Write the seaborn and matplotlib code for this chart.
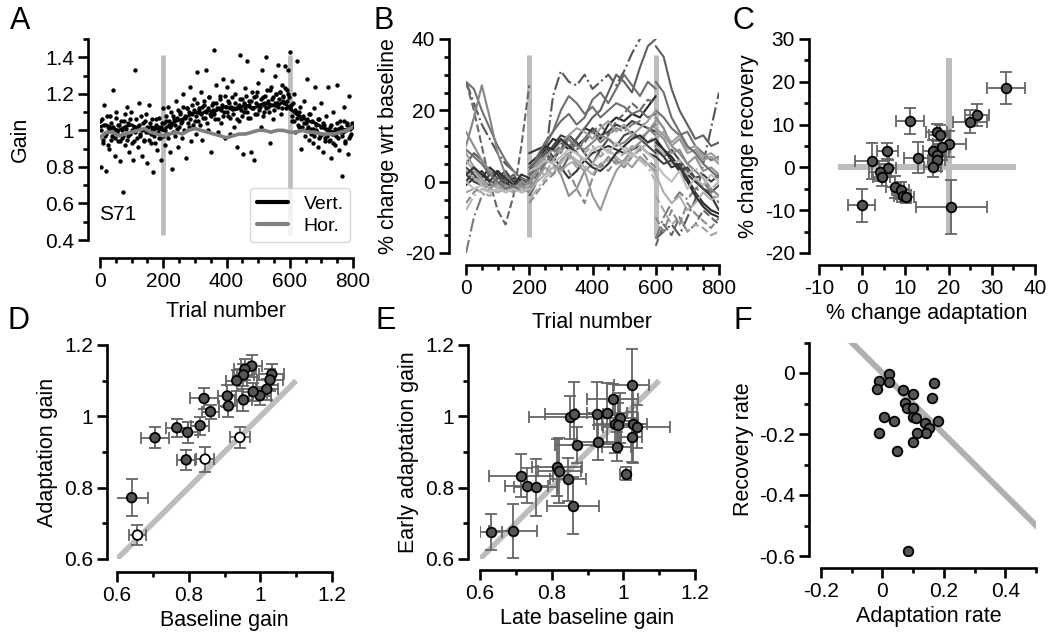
import numpy as np
import pandas as pd
import seaborn as sns
import matplotlib
matplotlib.use("Agg")
from matplotlib import pyplot as plt
from matplotlib.ticker import MultipleLocator, FormatStrFormatter

sns.set_theme(style="ticks")
plt.rcParams['font.family'] = ['Liberation Sans', 'DejaVu Sans']
plt.rcParams['axes.unicode_minus'] = False
for k in ('text.color', 'axes.labelcolor', 'xtick.color', 'ytick.color', 'axes.edgecolor'):
    plt.rcParams[k] = 'black'

# ---------------- data ----------------
# A: single subject (S71) vertical gain, dots at trials 0,4,8,... and 2,6,10,...
a_gain = [
    1.05, 0.80, 0.93, 1.14, 0.97, 0.78, 1.02, 0.90, 1.08, 0.95,
    1.22, 0.99, 0.86, 1.10, 0.94, 1.03, 0.83, 0.96, 0.66, 1.05,
    0.92, 1.13, 0.97, 0.88, 1.06, 1.00, 0.84, 0.94, 1.33, 1.02,
    0.91, 1.15, 0.98, 0.86, 1.04, 0.95, 1.09, 0.82, 0.99, 1.14,
    0.93, 1.01, 0.77, 0.97, 1.06, 0.89, 1.02, 0.96, 0.84, 1.04,
    1.12, 0.92, 1.05, 0.98, 1.13, 0.88, 1.03, 0.79, 1.08, 0.97,
    1.16, 1.01, 0.91, 1.10, 1.04, 0.96, 1.20, 1.07, 0.85, 1.12,
    1.02, 1.24, 0.94, 1.09, 1.17, 1.05, 0.98, 1.32, 1.11, 1.03,
    1.21, 0.95, 1.14, 1.07, 1.33, 1.00, 1.18, 1.09, 0.88, 1.15,
    1.44, 1.06, 1.25, 0.99, 1.12, 1.19, 1.04, 1.28, 1.10, 0.96,
    1.24, 1.08, 1.15, 0.98, 1.27, 1.12, 1.02, 1.20, 0.91, 1.13,
    1.05, 1.41, 1.17, 0.87, 1.10, 1.23, 1.38, 1.07, 1.16, 0.88,
    1.21, 1.12, 0.84, 1.19, 1.09, 1.26, 1.14, 1.02, 1.33, 1.18,
    1.10, 1.40, 1.22, 1.13, 0.93, 1.24, 1.17, 1.06, 1.30, 1.20,
    1.15, 1.36, 1.21, 1.09, 1.25, 1.18, 1.35, 1.12, 1.22, 1.33,
    1.43, 1.14, 1.05, 1.20, 0.99, 1.10, 1.38, 1.02, 1.13, 0.90,
    1.07, 1.16, 0.97, 1.04, 1.28, 0.95, 1.09, 1.01, 0.93, 1.12,
    1.24, 1.00, 0.91, 1.06, 0.97, 1.15, 0.88, 1.03, 0.96, 1.08,
    1.24, 0.94, 1.02, 0.85, 1.10, 0.98, 0.92, 1.25, 1.01, 0.89,
    1.05, 0.75, 0.99, 1.13, 0.93, 1.04, 0.87, 1.19, 0.97, 1.02,
]
a_gain_b = [
    1.00, 1.06, 0.95, 1.03, 0.98, 1.08, 0.92, 1.01, 1.04, 0.97,
    1.02, 0.96, 1.07, 0.99, 1.03, 0.94, 1.05, 1.00, 0.97, 1.09,
    1.01, 0.95, 1.04, 0.98, 1.10, 0.93, 1.02, 0.99, 1.06, 0.96,
    1.03, 0.97, 1.08, 1.00, 0.94, 1.05, 0.99, 1.02, 0.95, 1.04,
    0.98, 1.06, 1.01, 0.93, 1.03, 0.99, 1.07, 0.96, 1.02, 0.97,
    1.04, 1.00, 1.08, 0.96, 1.05, 1.02, 1.10, 0.99, 1.06, 1.03,
    1.07, 1.11, 1.02, 1.09, 1.05, 1.13, 1.00, 1.08, 1.12, 1.04,
    1.10, 1.06, 1.14, 1.03, 1.11, 1.08, 1.15, 1.05, 1.12, 1.09,
    1.13, 1.07, 1.16, 1.10, 1.04, 1.12, 1.18, 1.08, 1.14, 1.11,
    1.09, 1.15, 1.12, 1.06, 1.17, 1.11, 1.14, 1.08, 1.19, 1.13,
    1.10, 1.16, 1.07, 1.13, 1.18, 1.09, 1.15, 1.12, 1.06, 1.14,
    1.17, 1.11, 1.08, 1.15, 1.12, 1.19, 1.10, 1.14, 1.07, 1.16,
    1.12, 1.18, 1.09, 1.15, 1.21, 1.11, 1.13, 1.17, 1.08, 1.14,
    1.19, 1.12, 1.16, 1.10, 1.22, 1.14, 1.18, 1.11, 1.15, 1.20,
    1.13, 1.17, 1.21, 1.12, 1.19, 1.15, 1.23, 1.16, 1.20, 1.18,
    1.12, 1.08, 1.15, 1.05, 1.11, 1.07, 1.03, 1.10, 1.06, 1.02,
    1.08, 1.04, 1.00, 1.06, 1.02, 1.09, 0.98, 1.05, 1.01, 0.97,
    1.03, 0.99, 1.06, 0.96, 1.02, 0.98, 1.04, 0.94, 1.01, 0.97,
    1.00, 0.95, 1.03, 0.98, 0.93, 1.01, 0.97, 1.04, 0.96, 0.99,
    1.02, 0.97, 1.05, 0.94, 1.00, 1.03, 0.96, 1.01, 0.98, 1.04,
]
a_trials = np.arange(0, 800, 4)
a_trials_b = np.arange(2, 800, 4)
# smoothed gains, every 20 trials
a_vert = [1.02, 1.03, 1.01, 1.00, 1.02, 1.03, 1.01, 1.00, 1.02, 1.01,
          1.00, 1.03, 1.05, 1.06, 1.08, 1.10, 1.09, 1.11, 1.10, 1.12,
          1.13, 1.11, 1.12, 1.14, 1.12, 1.13, 1.15, 1.14, 1.13, 1.16,
          1.12, 1.09, 1.07, 1.05, 1.04, 1.02, 1.00, 0.99, 1.01, 1.00, 1.03]
a_hor = [0.96, 0.99, 0.99, 0.97, 0.98, 0.99, 1.00, 1.01, 0.99, 0.98,
         0.97, 0.98, 0.99, 0.98, 1.00, 1.01, 1.00, 0.99, 0.98, 0.97,
         0.96, 0.97, 0.98, 0.98, 0.99, 1.00, 1.00, 0.99, 1.00, 1.00,
         0.99, 0.99, 1.00, 0.99, 0.99, 0.98, 0.98, 0.98, 0.99, 1.00, 1.02]
a_smooth_trials = np.arange(0, 801, 20)
phase_edges = [200, 600]

# B: % change wrt baseline per subject (pre 0-200, adapt 200-600, post 600-800; every 25 trials)
b_pre = [
    [0, 3, 1, 4, 2, -1, 1, 0, -2],
    [-1, 1, 3, 0, -1, 2, 0, 1, -1],
    [2, 0, -1, 2, 3, 0, -2, 1, 0],
    [4, 2, 0, -1, 1, 3, 0, -1, 1],
    [28, 22, 16, 12, 8, 5, 3, 1, 0],
    [5, 8, 6, 3, 1, 0, 2, -1, 0],
    [28, 20, 10, 0, -8, -12, -4, 10, 27],
    [28, 26, 20, 15, 10, 6, 3, 1, 0],
    [-20, -10, -4, -2, 0, -1, -3, 0, -1],
    [10, 18, 27, 18, 8, 2, -1, -2, 0],
    [14, 10, 6, 3, -1, -3, -2, 0, -1],
    [8, 4, 1, -2, -3, -2, -1, -3, -2],
    [-3, -2, -3, -4, -2, -3, -1, -2, -3],
    [6, 3, 0, -2, -3, -2, -3, -2, -1],
    [-8, -4, -2, -3, -1, -2, -3, -2, -1],
    [3, 1, -1, 0, -2, -1, -3, -1, -2],
    [2, 4, 2, 0, 3, 1, -1, 2, 1],
    [-6, -3, -1, -2, 0, -1, -2, -1, -3],
    [9, 7, 5, 2, 0, -2, -1, -3, -2],
    [0, -2, -1, -3, -2, -3, -2, -3, -2],
]
b_adapt = [
    [3, 6, 9, 12, 11, 9, 12, 15, 14, 12, 16, 18, 17, 19, 18, 21, 24],
    [8, 9, 10, 7, 4, 1, 3, 6, 8, 9, 10, 9, 8, 9, 10, 8, 7],
    [1, 5, 7, 10, 13, 12, 10, 12, 15, 13, 14, 16, 15, 17, 16, 15, 14],
    [0, 3, 8, 6, 9, 13, 11, 8, 5, 9, 12, 10, 13, 14, 12, 10, 8],
    [-4, 0, 6, 24, 31, 28, 27, 30, 26, 28, 30, 27, 31, 36, 40, 42, 44],
    [4, 6, 8, 5, 3, 7, 12, 15, 18, 20, 25, 30, 28, 25, 32, 38, 40],
    [-2, 2, 5, 8, 10, 12, 9, 11, 14, 16, 13, 17, 19, 22, 20, 23, 22],
    [2, 6, 10, 14, 20, 24, 22, 19, 21, 18, 20, 22, 21, 19, 20, 18, 19],
    [-3, 1, 5, 7, 9, 11, 8, 12, 14, 11, 13, 15, 14, 16, 17, 15, 13],
    [0, 4, 7, 9, 8, 12, 10, 9, 11, 13, 12, 10, 11, 13, 12, 14, 16],
    [-1, 3, 6, 5, 2, -4, -2, 3, 5, 4, 7, 5, 6, 9, 11, 14, 17],
    [-2, 1, 4, 2, 6, 8, 5, 3, -4, -8, -2, 3, 6, 4, 7, 5, 3],
    [1, 3, 2, 6, 9, 7, 4, 8, 10, 7, 9, 6, 8, 10, 9, 11, 13],
    [-3, 0, 2, 4, 3, 5, 6, 4, 2, 5, 6, 7, 5, 8, 6, 5, 2],
    [-5, -2, 1, 3, 5, 8, 6, 4, 5, 8, 9, 7, 10, 8, 6, 4, 0],
    [2, 5, 7, 9, 11, 13, 15, 14, 12, 15, 17, 14, 16, 13, 15, 17, 20],
    [5, 7, 10, 9, 12, 10, 8, 6, 4, 3, 5, 8, 10, 12, 13, 11, 12],
    [-6, -3, 0, 2, 4, 3, -2, -6, 1, 5, 3, 6, 4, 7, 9, 6, 4],
    [2, 7, 11, 14, 17, 19, 16, 18, 23, 25, 22, 26, 30, 27, 24, 28, 26],
    [3, 4, 6, 5, 7, 9, 8, 6, 9, 10, 8, 11, 9, 7, 10, 8, 6],
]
b_post = [
    [12, 9, 7, 4, 1, -3, -6, -8, -9],
    [9, 7, 4, 5, 2, 0, -2, -4, -8],
    [7, 5, 6, 3, 4, 1, 2, 0, 2],
    [10, 7, 9, 6, 3, 1, -2, -3, -1],
    [-16, -14, -12, -15, -10, -5, 5, 15, 25],
    [38, 35, 26, 20, 16, 12, 13, 10, 11],
    [-18, -12, -15, -10, -14, -12, -8, -10, -12],
    [20, 18, 15, 13, 14, 10, 8, 6, 7],
    [-16, -10, -6, -3, -5, -2, 0, -3, -6],
    [18, 15, 10, 8, 5, 3, 1, -2, -4],
    [14, 12, 8, 9, 5, 7, 3, 4, 2],
    [15, 13, 10, 12, 8, 9, 6, 7, 5],
    [-4, -8, -12, -10, -14, -12, -13, -15, -14],
    [2, -3, -6, -4, -8, -6, -3, -5, -4],
    [10, 8, 5, 6, 2, 4, 1, -2, 0],
    [12, 14, 11, 13, 9, 10, 7, 8, 6],
    [11, 9, 6, 3, 0, -4, -7, -9, -10],
    [-10, -14, -8, -12, -6, -9, -11, -13, -10],
    [28, 25, 18, 14, 10, 8, 5, 3, 1],
    [5, 2, 0, 3, -2, 1, -1, 2, 0],
]
b_colors = ['#262626', '#333333', '#3d3d3d', '#484848', '#555555', '#5e5e5e',
            '#666666', '#707070', '#7a7a7a', '#858585', '#8f8f8f', '#999999',
            '#a3a3a3', '#adadad', '#b5b5b5', '#9e9e9e', '#2f2f2f', '#8a8a8a',
            '#6e6e6e', '#bdbdbd']
b_styles = ['-', '-', '-', '-', '-.', '-', '--', '-', '-.', '-', '-', '-',
            '--', '-', '-.', '-', '-', '--', '-', '-']

# C: % change adaptation vs % change recovery
c_x = [33.4, 26.5, 25.0, 11.1, 17.2, 17.9, 20.2, 18.4, 16.5, 17.4, 17.2, 16.3,
       13.0, 5.8, 2.3, 5.9, 4.1, 4.5, 7.6, 8.9, 9.4, 10.1, -0.1, 20.6]
c_y = [18.5, 12.2, 10.7, 10.8, 8.2, 7.6, 5.4, 4.7, 3.8, 2.9, 1.7, 0.2,
       2.3, 3.8, 1.5, -0.2, -1.1, -2.3, -4.6, -5.3, -6.6, -6.8, -8.9, -9.3]
c_xerr = [4.4, 2.8, 3.9, 3.3, 2.5, 2.5, 3.9, 2.0, 2.5, 2.0, 2.0, 2.0,
          3.4, 2.4, 4.0, 2.0, 2.5, 2.0, 2.0, 2.0, 2.0, 2.0, 3.1, 8.2]
c_yerr = [3.8, 2.6, 2.7, 3.1, 2.0, 2.2, 3.0, 3.0, 2.5, 2.0, 2.5, 2.5,
          3.7, 1.8, 4.1, 2.0, 2.0, 2.0, 2.5, 2.0, 1.5, 1.5, 3.8, 6.3]
c_cross_x, c_cross_y = 20, 0

# D: baseline gain vs adaptation gain (open = white marker)
d_x = [0.976, 0.957, 0.953, 0.934, 1.032, 1.027, 1.018, 0.999, 0.980, 0.953, 0.908, 0.911,
       0.843, 0.861, 0.832, 0.767, 0.797, 0.706, 0.793, 0.846, 0.943, 0.641, 0.657]
d_y = [1.141, 1.132, 1.116, 1.100, 1.118, 1.102, 1.076, 1.058, 1.069, 1.046, 1.057, 1.029,
       1.050, 1.013, 0.974, 0.968, 0.955, 0.940, 0.878, 0.880, 0.941, 0.772, 0.667]
d_xerr = [0.03, 0.03, 0.03, 0.03, 0.035, 0.035, 0.03, 0.03, 0.03, 0.025, 0.025, 0.025,
          0.039, 0.025, 0.025, 0.03, 0.03, 0.040, 0.025, 0.026, 0.029, 0.046, 0.023]
d_yerr = [0.03, 0.03, 0.03, 0.03, 0.03, 0.03, 0.03, 0.025, 0.025, 0.03, 0.03, 0.03,
          0.03, 0.02, 0.025, 0.025, 0.03, 0.030, 0.028, 0.035, 0.030, 0.052, 0.027]
d_open = [0] * 19 + [1, 1, 0, 1]

# E: late baseline gain vs early adaptation gain
e_x = [1.023, 0.970, 0.851, 0.863, 0.927, 0.954, 0.991, 0.977, 0.986, 1.026, 1.037, 1.023, 0.981,
       0.930, 0.870, 1.007, 0.816, 0.821, 0.845, 0.714, 0.730, 0.756, 0.860, 0.630, 0.693]
e_y = [1.088, 1.048, 0.997, 1.007, 1.007, 1.008, 0.996, 0.978, 0.976, 0.978, 0.971, 0.941, 0.915,
       0.927, 0.920, 0.839, 0.857, 0.848, 0.824, 0.834, 0.806, 0.801, 0.750, 0.676, 0.679]
e_xerr = [0.050, 0.071, 0.113, 0.081, 0.060, 0.055, 0.050, 0.060, 0.045, 0.040, 0.094, 0.030, 0.040,
          0.060, 0.060, 0.015, 0.070, 0.060, 0.050, 0.089, 0.060, 0.060, 0.073, 0.030, 0.067]
e_yerr = [0.100, 0.044, 0.060, 0.088, 0.090, 0.085, 0.070, 0.080, 0.060, 0.110, 0.060, 0.070, 0.040,
          0.050, 0.050, 0.018, 0.080, 0.090, 0.060, 0.060, 0.050, 0.080, 0.079, 0.051, 0.076]
unity = [0.6, 1.1]

# F: adaptation rate vs recovery rate
f_x = [0.021, -0.010, 0.022, -0.019, 0.168, 0.068, 0.101, 0.160, 0.074, 0.079, 0.101, 0.098,
       0.109, 0.005, 0.038, 0.182, 0.139, 0.153, 0.142, 0.112, -0.010, 0.101, 0.048, 0.082]
f_y = [-0.003, -0.026, -0.028, -0.052, -0.034, -0.056, -0.069, -0.081, -0.099, -0.114, -0.116, -0.143,
       -0.149, -0.145, -0.157, -0.157, -0.165, -0.181, -0.198, -0.198, -0.196, -0.227, -0.256, -0.583]
f_line_x = [-0.11, 0.52]
f_line_y = [0.11, -0.52]

# ---------------- layout helpers ----------------
W, H = 1051, 640
fig = plt.figure(figsize=(W / 100, H / 100), dpi=100)
PX = 72 / 100  # points per pixel
REF = '#bdbdbd'
DOT = '#555555'
ERR = '#666666'


def px_axes(l, r, t, b):
    return fig.add_axes([l / W, 1 - b / H, (r - l) / W, (b - t) / H])


def style(ax, xlim, ylim, xmaj, xmin, ymaj, ymin, xoff, yoff):
    ax.set_xlim(xlim)
    ax.set_ylim(ylim)
    ax.xaxis.set_major_locator(MultipleLocator(xmaj))
    ax.xaxis.set_minor_locator(MultipleLocator(xmin))
    ax.yaxis.set_major_locator(MultipleLocator(ymaj))
    ax.yaxis.set_minor_locator(MultipleLocator(ymin))
    ax.xaxis.set_major_formatter(FormatStrFormatter('%g'))
    ax.yaxis.set_major_formatter(FormatStrFormatter('%g'))
    sns.despine(ax=ax)
    ax.spines['left'].set_position(('outward', yoff * PX))
    ax.spines['bottom'].set_position(('outward', xoff * PX))
    ax.spines['left'].set_bounds(*ylim)
    ax.spines['bottom'].set_bounds(*xlim)
    for s in ('left', 'bottom'):
        ax.spines[s].set_linewidth(1.9)
        ax.spines[s].set_color('black')
    ax.tick_params(which='major', length=7, width=1.9, labelsize=15, pad=3, color='black')
    ax.tick_params(which='minor', length=3.8, width=1.9, color='black')
    ax.set_facecolor('none')


def errplot(ax, x, y, xe, ye):
    ax.errorbar(x, y, xerr=xe, yerr=ye, fmt='none', ecolor=ERR,
                elinewidth=1.3, capsize=4, capthick=1.3, zorder=2)


LBL = 15.5
MS = 48

# ---------------- A ----------------
axA = px_axes(100, 353, 39, 240)
for t in phase_edges:
    axA.plot([t, t], [0.43, 1.41], color=REF, lw=3.4, solid_capstyle='butt', zorder=1)
sns.scatterplot(x=a_trials, y=a_gain, color='black', s=10, linewidth=0, ax=axA, zorder=2)
sns.scatterplot(x=a_trials_b, y=a_gain_b, color='black', s=10, linewidth=0, ax=axA, zorder=2)
sns.lineplot(x=a_smooth_trials, y=a_vert, color='black', lw=2.3, label='Vert.', ax=axA, zorder=4)
sns.lineplot(x=a_smooth_trials, y=a_hor, color='#808080', lw=2.6, label='Hor.', ax=axA, zorder=4)
style(axA, (0, 800), (0.4, 1.5), 200, 50, 0.2, 0.1, 18, 12)
axA.set_xlabel('Trial number', fontsize=LBL, labelpad=7.5)
axA.set_ylabel('Gain', fontsize=LBL, labelpad=10)
axA.text(57, 0.54, 'S71', fontsize=15, ha='center', va='center')
leg = axA.legend(loc='lower right', bbox_to_anchor=(0.99, -0.01), borderaxespad=0,
                 fontsize=14, handlelength=1.6, labelspacing=0.25, borderpad=0.35,
                 frameon=True, fancybox=True)
leg.get_frame().set_edgecolor('#d0d0d0')
for line in leg.get_lines():
    line.set_linewidth(3)
leg.set_zorder(5)

# ---------------- B ----------------
axB = px_axes(466, 719, 39, 253)
for t in phase_edges:
    axB.plot([t, t], [-15.5, 35.5], color=REF, lw=3.6, solid_capstyle='butt', zorder=1)
pre_t = np.arange(0, 201, 25)
ad_t = np.arange(200, 601, 25)
post_t = np.arange(600, 801, 25)
for pre, ad, post, col, ls in zip(b_pre, b_adapt, b_post, b_colors, b_styles):
    for tt, vv in ((pre_t, pre), (ad_t, ad), (post_t, post)):
        sns.lineplot(x=tt, y=vv, color=col, linestyle=ls, lw=1.5, ax=axB, zorder=2)
style(axB, (0, 800), (-20, 40), 200, 50, 20, 5, 12, 17)
axB.set_xlabel('Trial number', fontsize=LBL, labelpad=10)
axB.set_ylabel('% change wrt baseline', fontsize=LBL)

# ---------------- C ----------------
axC = px_axes(819, 1035, 39, 253)
axC.plot([c_cross_x, c_cross_x], [-15.5, 25.5], color=REF, lw=4.3, solid_capstyle='butt', zorder=1)
axC.plot([-5.5, 35.5], [c_cross_y, c_cross_y], color=REF, lw=4.3, solid_capstyle='butt', zorder=1)
errplot(axC, c_x, c_y, c_xerr, c_yerr)
sns.scatterplot(x=c_x, y=c_y, color=DOT, edgecolor='black', linewidth=1.3, s=MS, ax=axC, zorder=3)
style(axC, (-10, 40), (-20, 30), 10, 5, 10, 5, 12, 10)
axC.set_xlabel('% change adaptation', fontsize=LBL)
axC.set_ylabel('% change recovery', fontsize=LBL)

# ---------------- D ----------------
axD = px_axes(117, 332, 345, 559)
axD.plot(unity, unity, color=REF, lw=4, solid_capstyle='butt', zorder=1)
errplot(axD, d_x, d_y, d_xerr, d_yerr)
dfD = pd.DataFrame({'x': d_x, 'y': d_y, 'open': d_open})
sns.scatterplot(data=dfD, x='x', y='y', hue='open', palette={0: DOT, 1: 'white'},
                edgecolor='black', linewidth=1.3, s=MS, legend=False, ax=axD, zorder=3)
style(axD, (0.6, 1.2), (0.6, 1.2), 0.2, 0.1, 0.2, 0.1, 13, 10)
axD.set_xlabel('Baseline gain', fontsize=LBL)
axD.set_ylabel('Adaptation gain', fontsize=LBL)

# ---------------- E ----------------
axE = px_axes(480, 695, 345, 559)
axE.plot(unity, unity, color=REF, lw=4, solid_capstyle='butt', zorder=1)
errplot(axE, e_x, e_y, e_xerr, e_yerr)
sns.scatterplot(x=e_x, y=e_y, color=DOT, edgecolor='black', linewidth=1.3, s=MS, ax=axE, zorder=3)
style(axE, (0.6, 1.2), (0.6, 1.2), 0.2, 0.1, 0.2, 0.1, 11, 12)
axE.set_xlabel('Late baseline gain', fontsize=LBL)
axE.set_ylabel('Early adaptation gain', fontsize=LBL)

# ---------------- F ----------------
axF = px_axes(821, 1036, 342.5, 556)
axF.plot(f_line_x, f_line_y, color='#b0b0b0', lw=4.3, solid_capstyle='butt', zorder=1)
sns.scatterplot(x=f_x, y=f_y, color=DOT, edgecolor='black', linewidth=1.3, s=MS, ax=axF, zorder=3)
style(axF, (-0.2, 0.5), (-0.6, 0.1), 0.2, 0.1, 0.2, 0.1, 12, 12)
axF.set_xlabel('Adaptation rate', fontsize=LBL)
axF.set_ylabel('Recovery rate', fontsize=LBL)

# panel letters
for letter, (lx, ly) in zip('ABCDEF', [(10, 6), (374, 6), (732, 6), (8, 306), (376, 306), (734, 306)]):
    fig.text(lx / W, 1 - ly / H, letter, fontsize=22, va='top', ha='left')

fig.savefig('out.png', dpi=100)
